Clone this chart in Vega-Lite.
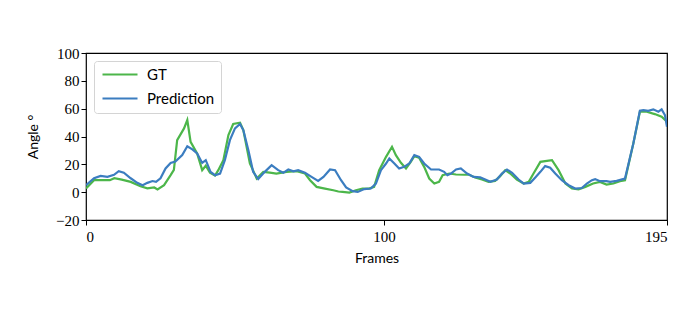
{
  "$schema": "https://vega.github.io/schema/vega-lite/v6.json",
  "autosize": "none",
  "width": 581,
  "height": 167,
  "padding": {"left": 86, "top": 53, "right": 33, "bottom": 105},
  "background": "white",
  "config": {
    "view": {"stroke": "black", "strokeWidth": 1.2},
    "axis": {
      "domain": false,
      "grid": false,
      "tickColor": "black",
      "tickSize": 5,
      "tickWidth": 1,
      "labelFont": "Liberation Serif",
      "labelFontSize": 15,
      "labelColor": "black",
      "titleFont": "Lato",
      "titleFontSize": 14,
      "titleFontWeight": "normal",
      "titleColor": "black"
    }
  },
  "data": {
    "values": [
      {"f": 0, "s": "GT", "v": 2.7}, {"f": 2.7, "s": "GT", "v": 8.6}, {"f": 5, "s": "GT", "v": 8.6}, {"f": 8, "s": "GT", "v": 8.6}, {"f": 9.5, "s": "GT", "v": 10}, {"f": 12, "s": "GT", "v": 9}, {"f": 15, "s": "GT", "v": 7.4}, {"f": 18.3, "s": "GT", "v": 4.3}, {"f": 20.6, "s": "GT", "v": 2.7}, {"f": 22.9, "s": "GT", "v": 3.4}, {"f": 24, "s": "GT", "v": 2}, {"f": 26.2, "s": "GT", "v": 5}, {"f": 28.4, "s": "GT", "v": 12.2}, {"f": 29.5, "s": "GT", "v": 16}, {"f": 30.6, "s": "GT", "v": 37.4}, {"f": 32.9, "s": "GT", "v": 45.8}, {"f": 34, "s": "GT", "v": 51.8}, {"f": 35.1, "s": "GT", "v": 36.2}, {"f": 37.3, "s": "GT", "v": 27.8}, {"f": 39, "s": "GT", "v": 15.8}, {"f": 40.2, "s": "GT", "v": 19}, {"f": 41.6, "s": "GT", "v": 14}, {"f": 43.3, "s": "GT", "v": 12}, {"f": 44.4, "s": "GT", "v": 15.8}, {"f": 46.1, "s": "GT", "v": 23}, {"f": 47.8, "s": "GT", "v": 41}, {"f": 49.4, "s": "GT", "v": 49}, {"f": 51.7, "s": "GT", "v": 49.9}, {"f": 52.8, "s": "GT", "v": 44.6}, {"f": 55, "s": "GT", "v": 20.6}, {"f": 57.3, "s": "GT", "v": 9.8}, {"f": 59.5, "s": "GT", "v": 14.6}, {"f": 61.7, "s": "GT", "v": 14}, {"f": 63.9, "s": "GT", "v": 13.4}, {"f": 67.3, "s": "GT", "v": 14.6}, {"f": 70.7, "s": "GT", "v": 15.1}, {"f": 73.5, "s": "GT", "v": 13.4}, {"f": 75.2, "s": "GT", "v": 8.6}, {"f": 77.4, "s": "GT", "v": 3.8}, {"f": 80.2, "s": "GT", "v": 2.6}, {"f": 83, "s": "GT", "v": 1.4}, {"f": 84.7, "s": "GT", "v": 0.5}, {"f": 86.1, "s": "GT", "v": 0.2}, {"f": 88.4, "s": "GT", "v": -0.3}, {"f": 90.6, "s": "GT", "v": 1.4}, {"f": 92.8, "s": "GT", "v": 2.6}, {"f": 95, "s": "GT", "v": 2.6}, {"f": 96.7, "s": "GT", "v": 3.8}, {"f": 98.4, "s": "GT", "v": 15.8}, {"f": 100.7, "s": "GT", "v": 25.4}, {"f": 102.7, "s": "GT", "v": 32.6}, {"f": 104, "s": "GT", "v": 26.6}, {"f": 105.7, "s": "GT", "v": 21.1}, {"f": 107.4, "s": "GT", "v": 17}, {"f": 109, "s": "GT", "v": 21.8}, {"f": 110.2, "s": "GT", "v": 25.9}, {"f": 111.8, "s": "GT", "v": 24.7}, {"f": 113.5, "s": "GT", "v": 18.2}, {"f": 115.2, "s": "GT", "v": 9.8}, {"f": 116.9, "s": "GT", "v": 6.2}, {"f": 118.5, "s": "GT", "v": 7.4}, {"f": 119.7, "s": "GT", "v": 12.2}, {"f": 121.9, "s": "GT", "v": 13.4}, {"f": 124.2, "s": "GT", "v": 12.7}, {"f": 127, "s": "GT", "v": 12.5}, {"f": 128.4, "s": "GT", "v": 12.7}, {"f": 130.6, "s": "GT", "v": 10.6}, {"f": 132.9, "s": "GT", "v": 9.1}, {"f": 135.1, "s": "GT", "v": 7.4}, {"f": 137.3, "s": "GT", "v": 8.1}, {"f": 139, "s": "GT", "v": 11.5}, {"f": 140.7, "s": "GT", "v": 15.8}, {"f": 142.4, "s": "GT", "v": 13.4}, {"f": 144.6, "s": "GT", "v": 9.1}, {"f": 146.9, "s": "GT", "v": 6.2}, {"f": 148.6, "s": "GT", "v": 7.4}, {"f": 150.2, "s": "GT", "v": 13.4}, {"f": 152.5, "s": "GT", "v": 21.8}, {"f": 154.7, "s": "GT", "v": 22.5}, {"f": 156.4, "s": "GT", "v": 23}, {"f": 158.6, "s": "GT", "v": 15.8}, {"f": 160.9, "s": "GT", "v": 6.2}, {"f": 163.1, "s": "GT", "v": 2.6}, {"f": 165.3, "s": "GT", "v": 2}, {"f": 167.6, "s": "GT", "v": 3.8}, {"f": 170.2, "s": "GT", "v": 6.2}, {"f": 172.5, "s": "GT", "v": 7.4}, {"f": 174.7, "s": "GT", "v": 5.5}, {"f": 177, "s": "GT", "v": 6.2}, {"f": 179.2, "s": "GT", "v": 7.9}, {"f": 180.9, "s": "GT", "v": 8.6}, {"f": 183.7, "s": "GT", "v": 35}, {"f": 185.9, "s": "GT", "v": 57.8}, {"f": 188.2, "s": "GT", "v": 57.8}, {"f": 190.9, "s": "GT", "v": 56.1}, {"f": 193.2, "s": "GT", "v": 54.2}, {"f": 195, "s": "GT", "v": 50.6},
      {"f": 0, "s": "Prediction", "v": 5}, {"f": 2.7, "s": "Prediction", "v": 10}, {"f": 4.9, "s": "Prediction", "v": 11.7}, {"f": 7.2, "s": "Prediction", "v": 11}, {"f": 9.4, "s": "Prediction", "v": 12.5}, {"f": 11, "s": "Prediction", "v": 15.1}, {"f": 12.7, "s": "Prediction", "v": 14}, {"f": 15, "s": "Prediction", "v": 10}, {"f": 17.2, "s": "Prediction", "v": 6.7}, {"f": 19, "s": "Prediction", "v": 5}, {"f": 20.6, "s": "Prediction", "v": 6.7}, {"f": 22.3, "s": "Prediction", "v": 8}, {"f": 23.5, "s": "Prediction", "v": 7.4}, {"f": 25, "s": "Prediction", "v": 10}, {"f": 26.7, "s": "Prediction", "v": 17}, {"f": 28.4, "s": "Prediction", "v": 21}, {"f": 30, "s": "Prediction", "v": 22}, {"f": 32.3, "s": "Prediction", "v": 26.6}, {"f": 34, "s": "Prediction", "v": 33}, {"f": 35.7, "s": "Prediction", "v": 30.7}, {"f": 37.3, "s": "Prediction", "v": 27.8}, {"f": 39, "s": "Prediction", "v": 21}, {"f": 40.2, "s": "Prediction", "v": 23}, {"f": 41.8, "s": "Prediction", "v": 14.6}, {"f": 43.3, "s": "Prediction", "v": 12.2}, {"f": 45, "s": "Prediction", "v": 13.4}, {"f": 46.6, "s": "Prediction", "v": 23}, {"f": 48.3, "s": "Prediction", "v": 37.4}, {"f": 50, "s": "Prediction", "v": 45.8}, {"f": 51.7, "s": "Prediction", "v": 49}, {"f": 52.8, "s": "Prediction", "v": 44.6}, {"f": 54.5, "s": "Prediction", "v": 30.2}, {"f": 56.1, "s": "Prediction", "v": 14.6}, {"f": 57.8, "s": "Prediction", "v": 9.4}, {"f": 60, "s": "Prediction", "v": 14.6}, {"f": 62.3, "s": "Prediction", "v": 19.4}, {"f": 64.5, "s": "Prediction", "v": 15.8}, {"f": 66.2, "s": "Prediction", "v": 13.9}, {"f": 67.9, "s": "Prediction", "v": 16.3}, {"f": 69.6, "s": "Prediction", "v": 15}, {"f": 71.2, "s": "Prediction", "v": 15.8}, {"f": 73.5, "s": "Prediction", "v": 13.9}, {"f": 75.7, "s": "Prediction", "v": 11}, {"f": 77.9, "s": "Prediction", "v": 8.1}, {"f": 79.7, "s": "Prediction", "v": 11}, {"f": 81.9, "s": "Prediction", "v": 16.3}, {"f": 83.6, "s": "Prediction", "v": 15.8}, {"f": 85.6, "s": "Prediction", "v": 8.6}, {"f": 87.3, "s": "Prediction", "v": 3.4}, {"f": 89.5, "s": "Prediction", "v": 0.7}, {"f": 91.2, "s": "Prediction", "v": 0.2}, {"f": 93.4, "s": "Prediction", "v": 2.2}, {"f": 95.6, "s": "Prediction", "v": 2.6}, {"f": 97.3, "s": "Prediction", "v": 6.2}, {"f": 99, "s": "Prediction", "v": 15.8}, {"f": 100.7, "s": "Prediction", "v": 20.6}, {"f": 101.8, "s": "Prediction", "v": 24.2}, {"f": 103.5, "s": "Prediction", "v": 20.6}, {"f": 105.1, "s": "Prediction", "v": 17}, {"f": 106.8, "s": "Prediction", "v": 18.2}, {"f": 108.5, "s": "Prediction", "v": 20.6}, {"f": 110.2, "s": "Prediction", "v": 26.6}, {"f": 111.8, "s": "Prediction", "v": 25.4}, {"f": 113.5, "s": "Prediction", "v": 20.6}, {"f": 115.8, "s": "Prediction", "v": 16.3}, {"f": 118.5, "s": "Prediction", "v": 16.3}, {"f": 120.2, "s": "Prediction", "v": 14.6}, {"f": 121.3, "s": "Prediction", "v": 12.2}, {"f": 122.5, "s": "Prediction", "v": 13.4}, {"f": 124.2, "s": "Prediction", "v": 16.3}, {"f": 125.8, "s": "Prediction", "v": 17}, {"f": 127.9, "s": "Prediction", "v": 13.4}, {"f": 130.1, "s": "Prediction", "v": 11}, {"f": 132.3, "s": "Prediction", "v": 10.6}, {"f": 134, "s": "Prediction", "v": 9.1}, {"f": 135.7, "s": "Prediction", "v": 7.4}, {"f": 137.9, "s": "Prediction", "v": 9.1}, {"f": 139.6, "s": "Prediction", "v": 13.4}, {"f": 141.3, "s": "Prediction", "v": 16.3}, {"f": 143, "s": "Prediction", "v": 13.9}, {"f": 145.2, "s": "Prediction", "v": 9.1}, {"f": 146.9, "s": "Prediction", "v": 6.2}, {"f": 149.1, "s": "Prediction", "v": 6.7}, {"f": 150.8, "s": "Prediction", "v": 10.6}, {"f": 152.5, "s": "Prediction", "v": 14.6}, {"f": 154.1, "s": "Prediction", "v": 18.7}, {"f": 155.8, "s": "Prediction", "v": 17.5}, {"f": 157.5, "s": "Prediction", "v": 13.4}, {"f": 159.7, "s": "Prediction", "v": 8.6}, {"f": 162, "s": "Prediction", "v": 5}, {"f": 164.2, "s": "Prediction", "v": 2.6}, {"f": 166.4, "s": "Prediction", "v": 3}, {"f": 168.1, "s": "Prediction", "v": 6.2}, {"f": 169.8, "s": "Prediction", "v": 8.6}, {"f": 170.9, "s": "Prediction", "v": 9.4}, {"f": 172.5, "s": "Prediction", "v": 7.9}, {"f": 174.7, "s": "Prediction", "v": 7.9}, {"f": 175.9, "s": "Prediction", "v": 7.4}, {"f": 178.1, "s": "Prediction", "v": 8.1}, {"f": 180.9, "s": "Prediction", "v": 9.8}, {"f": 183.7, "s": "Prediction", "v": 35}, {"f": 185.9, "s": "Prediction", "v": 58.5}, {"f": 187.1, "s": "Prediction", "v": 59}, {"f": 188.7, "s": "Prediction", "v": 58.5}, {"f": 190.4, "s": "Prediction", "v": 59.5}, {"f": 192.1, "s": "Prediction", "v": 57.8}, {"f": 193.2, "s": "Prediction", "v": 59.5}, {"f": 194.3, "s": "Prediction", "v": 55.4}, {"f": 195, "s": "Prediction", "v": 47}
    ]
  },
  "mark": {"type": "line", "strokeWidth": 2.2, "clip": true},
  "encoding": {
    "x": {
      "field": "f",
      "type": "quantitative",
      "scale": {"domain": [0, 195], "nice": false, "zero": false},
      "axis": {"values": [0, 100, 195], "title": "Frames", "labelPadding": 4, "titlePadding": 7}
    },
    "y": {
      "field": "v",
      "type": "quantitative",
      "scale": {"domain": [-20, 100], "nice": false},
      "axis": {"values": [-20, 0, 20, 40, 60, 80, 100], "title": "Angle °", "labelPadding": 2, "titlePadding": 15}
    },
    "color": {
      "field": "s",
      "type": "nominal",
      "scale": {"domain": ["GT", "Prediction"], "range": ["#4cb64a", "#3b7dc0"]},
      "legend": {
        "title": null,
        "orient": "top-left",
        "offset": 8,
        "padding": 6,
        "strokeColor": "#d4d4d4",
        "fillColor": "white",
        "cornerRadius": 3,
        "symbolType": "M-1,0H6",
        "symbolSize": 100,
        "symbolStrokeWidth": 2.2,
        "labelFont": "Lato",
        "labelFontSize": 15,
        "labelColor": "black",
        "labelOffset": 32,
        "rowPadding": 8
      }
    }
  }
}
